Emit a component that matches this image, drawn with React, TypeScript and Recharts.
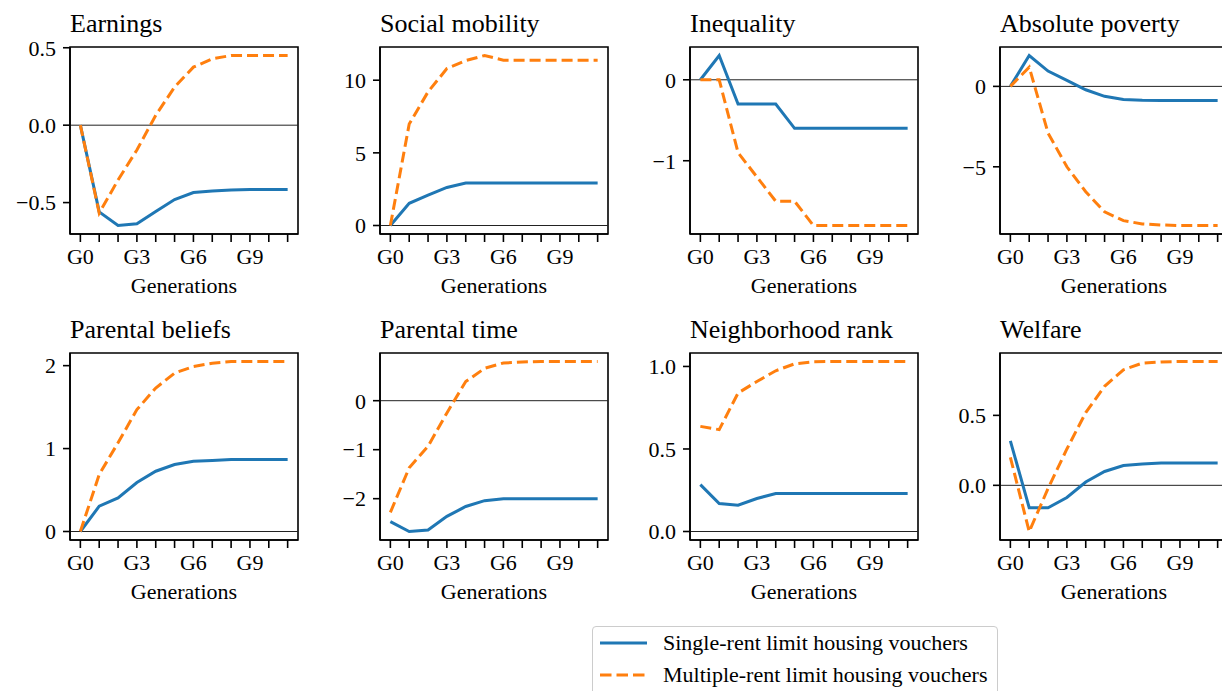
import { LineChart, Line, XAxis, YAxis, ReferenceLine, ReferenceArea } from "recharts";

const FONT = '"Liberation Serif", "Times New Roman", serif';
const BLUE = "#1f77b4";
const ORANGE = "#ff7f0e";

// x axis: generations G0..G11, only every third one labelled
const generations = [0, 1, 2, 3, 4, 5, 6, 7, 8, 9, 10, 11];
const generationLabels = ["G0", "", "", "G3", "", "", "G6", "", "", "G9", "", ""];
const seriesNames = [
  "Single-rent limit housing vouchers",
  "Multiple-rent limit housing vouchers",
];

const earningsSingle = [0, -0.56, -0.648, -0.637, -0.557, -0.48, -0.435, -0.425, -0.418, -0.416, -0.416, -0.416];
const earningsMultiple = [0, -0.568, -0.354, -0.16, 0.064, 0.246, 0.375, 0.429, 0.45, 0.45, 0.45, 0.45];
const earningsTicks = [-0.5, 0, 0.5];

const mobilitySingle = [0, 1.53, 2.09, 2.62, 2.93, 2.93, 2.93, 2.93, 2.93, 2.93, 2.93, 2.93];
const mobilityMultiple = [0, 6.98, 9.2, 10.8, 11.35, 11.7, 11.38, 11.38, 11.38, 11.38, 11.38, 11.38];
const mobilityTicks = [0, 5, 10];

const inequalitySingle = [0, 0.3, -0.3, -0.3, -0.3, -0.6, -0.6, -0.6, -0.6, -0.6, -0.6, -0.6];
const inequalityMultiple = [0, 0, -0.9, -1.2, -1.5, -1.5, -1.8, -1.8, -1.8, -1.8, -1.8, -1.8];
const inequalityTicks = [-1, 0];

const povertySingle = [0, 1.92, 0.95, 0.37, -0.21, -0.62, -0.81, -0.87, -0.88, -0.88, -0.88, -0.88];
const povertyMultiple = [0, 1.2, -2.9, -5.0, -6.55, -7.8, -8.35, -8.55, -8.62, -8.65, -8.65, -8.65];
const povertyTicks = [-5, 0];

const beliefsSingle = [0, 0.305, 0.405, 0.59, 0.727, 0.807, 0.847, 0.857, 0.867, 0.867, 0.867, 0.867];
const beliefsMultiple = [0, 0.687, 1.07, 1.47, 1.73, 1.91, 1.99, 2.03, 2.05, 2.05, 2.05, 2.05];
const beliefsTicks = [0, 1, 2];

const timeSingle = [-2.47, -2.67, -2.64, -2.36, -2.16, -2.04, -2.0, -2.0, -2.0, -2.0, -2.0, -2.0];
const timeMultiple = [-2.28, -1.37, -0.93, -0.25, 0.39, 0.66, 0.77, 0.79, 0.8, 0.8, 0.8, 0.8];
const timeTicks = [-2, -1, 0];

const rankSingle = [0.284, 0.169, 0.159, 0.2, 0.23, 0.23, 0.23, 0.23, 0.23, 0.23, 0.23, 0.23];
const rankMultiple = [0.637, 0.617, 0.839, 0.909, 0.974, 1.016, 1.028, 1.03, 1.03, 1.03, 1.03, 1.03];
const rankTicks = [0, 0.5, 1];

const welfareSingle = [0.318, -0.16, -0.16, -0.087, 0.024, 0.099, 0.141, 0.153, 0.16, 0.16, 0.16, 0.16];
const welfareMultiple = [0.2, -0.33, -0.023, 0.26, 0.52, 0.708, 0.826, 0.873, 0.882, 0.885, 0.885, 0.885];
const welfareTicks = [0, 0.5];

interface PanelSpec {
  title: string;
  single: number[];
  multiple: number[];
  yTicks: number[];
  decimals: number;
}

const panels: PanelSpec[] = [
  { title: "Earnings", single: earningsSingle, multiple: earningsMultiple, yTicks: earningsTicks, decimals: 1 },
  { title: "Social mobility", single: mobilitySingle, multiple: mobilityMultiple, yTicks: mobilityTicks, decimals: 0 },
  { title: "Inequality", single: inequalitySingle, multiple: inequalityMultiple, yTicks: inequalityTicks, decimals: 0 },
  { title: "Absolute poverty", single: povertySingle, multiple: povertyMultiple, yTicks: povertyTicks, decimals: 0 },
  { title: "Parental beliefs", single: beliefsSingle, multiple: beliefsMultiple, yTicks: beliefsTicks, decimals: 0 },
  { title: "Parental time", single: timeSingle, multiple: timeMultiple, yTicks: timeTicks, decimals: 0 },
  { title: "Neighborhood rank", single: rankSingle, multiple: rankMultiple, yTicks: rankTicks, decimals: 1 },
  { title: "Welfare", single: welfareSingle, multiple: welfareMultiple, yTicks: welfareTicks, decimals: 1 },
];

const CHART_W = 310;
const CHART_H = 300;
const ROW_STEP = 306;
const spine = { stroke: "#000", strokeWidth: 1.6 };
const tickText = { fill: "#000", fontSize: 22, fontFamily: FONT, style: { fontFamily: FONT } };

function fmt(v: number, decimals: number) {
  const s = Math.abs(v).toFixed(decimals);
  return v < 0 ? `\u2212${s}` : s;
}

function Panel({ panel, left, top }: { panel: PanelSpec; left: number; top: number }) {
  const data = generations.map((g, i) => ({
    g,
    single: panel.single[i],
    multiple: panel.multiple[i],
  }));

  // matplotlib-style autoscale: data range (incl. the zero line) + 5% margins
  const all = [...panel.single, ...panel.multiple, 0];
  const lo = Math.min(...all);
  const hi = Math.max(...all);
  const pad = (hi - lo) * 0.05;
  const xDomain: [number, number] = [-0.55, 11.55];
  const yDomain: [number, number] = [lo - pad, hi + pad];

  return (
    <div style={{ position: "absolute", left, top, width: CHART_W, height: CHART_H }}>
      <div
        style={{
          position: "absolute",
          left: 70,
          top: 11,
          fontSize: 26,
          lineHeight: 1,
          whiteSpace: "nowrap",
        }}
      >
        {panel.title}
      </div>
      <LineChart
        width={CHART_W}
        height={CHART_H}
        data={data}
        margin={{ top: 47, right: 12, bottom: 0, left: 0 }}
        style={{ fontFamily: FONT }}
      >
        <XAxis
          dataKey="g"
          type="number"
          domain={xDomain}
          allowDataOverflow
          ticks={generations}
          interval={0}
          tickFormatter={(v: number) => generationLabels[v] ?? ""}
          tick={tickText}
          tickLine={spine}
          axisLine={spine}
          tickSize={8}
          tickMargin={6}
          height={66}
          label={{
            value: "Generations",
            position: "insideBottom",
            offset: 7,
            fill: "#000",
            fontSize: 22,
            fontFamily: FONT,
            style: { fontFamily: FONT },
          }}
        />
        <YAxis
          type="number"
          domain={yDomain}
          allowDataOverflow
          ticks={panel.yTicks}
          interval={0}
          tickFormatter={(v: number) => fmt(v, panel.decimals)}
          tick={tickText}
          tickLine={spine}
          axisLine={spine}
          tickSize={7}
          tickMargin={7}
          width={70}
        />
        {/* full axes frame, as in a matplotlib subplot */}
        <ReferenceArea
          x1={xDomain[0]}
          x2={xDomain[1]}
          y1={yDomain[0]}
          y2={yDomain[1]}
          fill="none"
          fillOpacity={0}
          stroke="#000"
          strokeWidth={1.6}
          ifOverflow="visible"
        />
        <ReferenceLine y={0} stroke="#222" strokeWidth={1} />
        <Line
          type="linear"
          dataKey="single"
          stroke={BLUE}
          strokeWidth={3}
          dot={false}
          isAnimationActive={false}
        />
        <Line
          type="linear"
          dataKey="multiple"
          stroke={ORANGE}
          strokeWidth={3}
          strokeDasharray="11 5"
          dot={false}
          isAnimationActive={false}
        />
      </LineChart>
    </div>
  );
}

export default function App() {
  return (
    <div
      style={{
        position: "fixed",
        left: 0,
        top: 0,
        width: 1222,
        height: 691,
        overflow: "hidden",
        background: "#fff",
        color: "#000",
        fontFamily: FONT,
      }}
    >
      {panels.map((p, i) => (
        <Panel
          key={p.title}
          panel={p}
          left={(i % 4) * CHART_W}
          top={Math.floor(i / 4) * ROW_STEP}
        />
      ))}

      <div
        style={{
          position: "absolute",
          left: 592,
          top: 626,
          width: 406,
          height: 80,
          boxSizing: "border-box",
          border: "1px solid #cccccc",
          borderRadius: 4,
          background: "#fff",
        }}
      >
        {seriesNames.map((name, i) => (
          <div
            key={name}
            style={{ display: "flex", alignItems: "center", height: 32, paddingLeft: 7 }}
          >
            <svg width={47} height={6} style={{ display: "block" }}>
              <line
                x1={0}
                y1={3}
                x2={47}
                y2={3}
                stroke={i === 0 ? BLUE : ORANGE}
                strokeWidth={3}
                strokeDasharray={i === 0 ? undefined : "11.5 5"}
              />
            </svg>
            <span style={{ marginLeft: 16, fontSize: 22, lineHeight: "32px", whiteSpace: "nowrap" }}>
              {name}
            </span>
          </div>
        ))}
      </div>
    </div>
  );
}
